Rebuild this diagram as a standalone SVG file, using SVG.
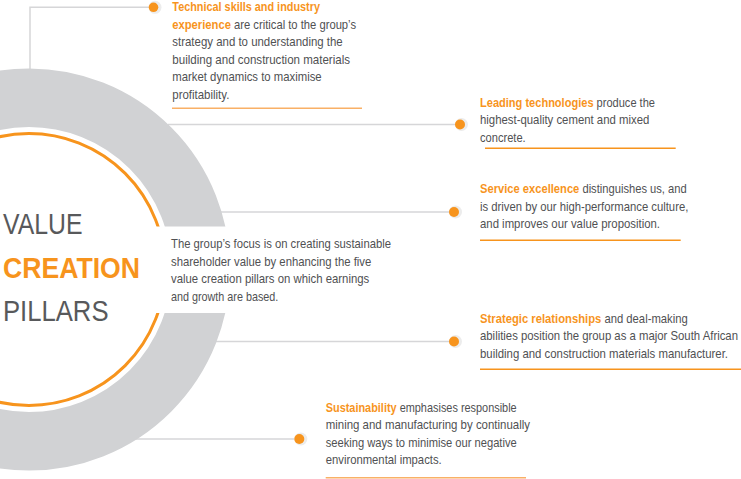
<svg xmlns="http://www.w3.org/2000/svg" width="741" height="479" viewBox="0 0 741 479">
<style>
.t{font-family:"Liberation Sans",Arial,sans-serif;font-size:12.5px;fill:#505153}
.b{font-weight:bold;fill:#f7941d}
.h{font-family:"Liberation Sans",Arial,sans-serif;font-size:30px;fill:#58595b}
.hb{font-family:"Liberation Sans",Arial,sans-serif;font-size:30px;font-weight:bold;fill:#f7941d}
.c{stroke:#d6d6d8;stroke-width:1.5;fill:none}
.u{stroke:#f7941d;stroke-width:1.5}
.ul{stroke:#f9b066;stroke-width:1.5}
.halo{fill:#ececec}
.dot{fill:#f7941d}
</style>
<defs>
<clipPath id="cut">
<rect x="0" y="0" width="741" height="226.5"/>
<rect x="0" y="313" width="741" height="166"/>
</clipPath>
</defs>
<g id="connectors">
<polyline class="c" points="153,7.3 30,7.3 30,69"/>
<line class="c" x1="168" y1="124.4" x2="462" y2="124.4"/>
<line class="c" x1="221" y1="212" x2="456" y2="212"/>
<line class="c" x1="216" y1="341.4" x2="456" y2="341.4"/>
<line class="c" x1="136" y1="439" x2="301" y2="439"/>
<circle class="halo" cx="155" cy="7.3" r="6.5"/>
<circle class="dot" cx="153.5" cy="7.3" r="4.8"/>
<circle class="halo" cx="461.5" cy="124.5" r="6.5"/>
<circle class="dot" cx="460" cy="124.5" r="5"/>
<circle class="halo" cx="455.5" cy="212" r="6.5"/>
<circle class="dot" cx="454" cy="212" r="5"/>
<circle class="halo" cx="455.5" cy="341.5" r="6.5"/>
<circle class="dot" cx="454" cy="341.5" r="5"/>
<circle class="halo" cx="300.8" cy="439" r="6.5"/>
<circle class="dot" cx="299.3" cy="439" r="5"/>
</g>
<g id="ring" clip-path="url(#cut)">
<circle cx="29" cy="269.5" r="171.7" fill="none" stroke="#d1d2d4" stroke-width="58.6"/>
<circle cx="29" cy="269.5" r="136" fill="none" stroke="#f7941d" stroke-width="3"/>
</g>
<g id="title">
<text class="h" transform="translate(3 234.3) scale(.84 1)" textLength="94.6" lengthAdjust="spacingAndGlyphs">VALUE</text>
<text class="hb" transform="translate(3 277.7) scale(.84 1)" textLength="163.1" lengthAdjust="spacingAndGlyphs">CREATION</text>
<text class="h" transform="translate(3 320.7) scale(.84 1)" textLength="125.6" lengthAdjust="spacingAndGlyphs">PILLARS</text>
</g>
<g id="center-text">
<text class="t" transform="translate(171 248.3) scale(.81 1)" textLength="271.6" lengthAdjust="spacingAndGlyphs">The group’s focus is on creating sustainable</text>
<text class="t" transform="translate(171 265.8) scale(.81 1)" textLength="247.3" lengthAdjust="spacingAndGlyphs">shareholder value by enhancing the five</text>
<text class="t" transform="translate(171 283.3) scale(.81 1)" textLength="244.8" lengthAdjust="spacingAndGlyphs">value creation pillars on which earnings</text>
<text class="t" transform="translate(171 300.8) scale(.81 1)" textLength="132.5" lengthAdjust="spacingAndGlyphs">and growth are based.</text>
</g>
<g id="technical-skills">
<text class="t b" transform="translate(172.3 11) scale(.81 1)" textLength="182.3" lengthAdjust="spacingAndGlyphs">Technical skills and industry</text>
<text class="t" transform="translate(172.3 28.6) scale(.81 1)" textLength="226.8" lengthAdjust="spacingAndGlyphs"><tspan class="b">experience</tspan> are critical to the group’s</text>
<text class="t" transform="translate(172.3 46.2) scale(.81 1)" textLength="210.4" lengthAdjust="spacingAndGlyphs">strategy and to understanding the</text>
<text class="t" transform="translate(172.3 63.8) scale(.81 1)" textLength="219.4" lengthAdjust="spacingAndGlyphs">building and construction materials</text>
<text class="t" transform="translate(172.3 81.4) scale(.81 1)" textLength="184.4" lengthAdjust="spacingAndGlyphs">market dynamics to maximise</text>
<text class="t" transform="translate(172.3 99) scale(.81 1)" textLength="70.4" lengthAdjust="spacingAndGlyphs">profitability.</text>
<line class="ul" x1="172" y1="108.3" x2="362" y2="108.3"/>
</g>
<g id="leading-technologies">
<text class="t" transform="translate(480 106.5) scale(.81 1)" textLength="216" lengthAdjust="spacingAndGlyphs"><tspan class="b">Leading technologies</tspan> produce the</text>
<text class="t" transform="translate(480 124) scale(.81 1)" textLength="209" lengthAdjust="spacingAndGlyphs">highest-quality cement and mixed</text>
<text class="t" transform="translate(480 141.5) scale(.81 1)" textLength="56.4" lengthAdjust="spacingAndGlyphs">concrete.</text>
<line class="u" x1="485" y1="148.3" x2="675.7" y2="148.3"/>
</g>
<g id="service-excellence">
<text class="t" transform="translate(480 193.3) scale(.81 1)" textLength="255.2" lengthAdjust="spacingAndGlyphs"><tspan class="b">Service excellence</tspan> distinguishes us, and</text>
<text class="t" transform="translate(480 210.8) scale(.81 1)" textLength="257.2" lengthAdjust="spacingAndGlyphs">is driven by our high-performance culture,</text>
<text class="t" transform="translate(480 228.3) scale(.81 1)" textLength="222.2" lengthAdjust="spacingAndGlyphs">and improves our value proposition.</text>
<line class="u" x1="480" y1="240.3" x2="680.7" y2="240.3"/>
</g>
<g id="strategic-relationships">
<text class="t" transform="translate(480 322.5) scale(.81 1)" textLength="256.4" lengthAdjust="spacingAndGlyphs"><tspan class="b">Strategic relationships</tspan> and deal-making</text>
<text class="t" transform="translate(480 340) scale(.81 1)" textLength="318.5" lengthAdjust="spacingAndGlyphs">abilities position the group as a major South African</text>
<text class="t" transform="translate(480 357.5) scale(.81 1)" textLength="306.2" lengthAdjust="spacingAndGlyphs">building and construction materials manufacturer.</text>
<line class="u" x1="480" y1="369.3" x2="741" y2="369.3"/>
</g>
<g id="sustainability">
<text class="t" transform="translate(325.7 411.7) scale(.81 1)" textLength="235.8" lengthAdjust="spacingAndGlyphs"><tspan class="b">Sustainability</tspan> emphasises responsible</text>
<text class="t" transform="translate(325.7 429.2) scale(.81 1)" textLength="252.2" lengthAdjust="spacingAndGlyphs">mining and manufacturing by continually</text>
<text class="t" transform="translate(325.7 446.7) scale(.81 1)" textLength="235.8" lengthAdjust="spacingAndGlyphs">seeking ways to minimise our negative</text>
<text class="t" transform="translate(325.7 464.2) scale(.81 1)" textLength="143.2" lengthAdjust="spacingAndGlyphs">environmental impacts.</text>
<line class="ul" x1="325.7" y1="477.7" x2="526" y2="477.7"/>
</g>
</svg>
